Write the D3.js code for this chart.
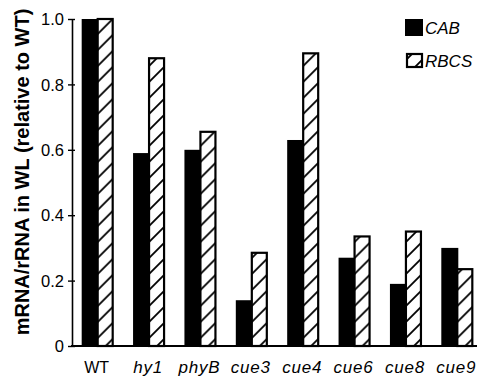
<!DOCTYPE html>
<html><head><meta charset="utf-8">
<script src="https://cdn.jsdelivr.net/npm/d3@7"></script>
<style>body{margin:0;background:#fff} svg{display:block}</style>
</head><body><svg id="c" width="479" height="383"></svg>
<script>
const categories = ["WT","hy1","phyB","cue3","cue4","cue6","cue8","cue9"];
const italicCategory = [false,true,true,true,true,true,true,true];
const cabValues = [1.0,0.59,0.60,0.14,0.63,0.27,0.19,0.30];
const rbcsValues = [1.0,0.88,0.655,0.285,0.895,0.335,0.35,0.235];
const seriesNames = ["CAB","RBCS"];
const yTicks = [0,0.2,0.4,0.6,0.8,1.0];
const yTickLabels = ["0","0.2","0.4","0.6","0.8","1.0"];
const yTitle = "mRNA/rRNA in WL (relative to WT)";

const svg = d3.select("#c");
const font = "'Liberation Sans', Arial, Helvetica, sans-serif";

const y = d3.scaleLinear().domain([0,1]).range([346,19]);
const x0 = d3.scaleBand().domain(categories).range([72,483]).paddingInner(0.377).paddingOuter(0.1885);
const x1 = d3.scaleBand().domain(seriesNames).range([0,x0.bandwidth()]);

const defs = svg.append("defs");
const pat = defs.append("pattern").attr("id","hatch").attr("patternUnits","userSpaceOnUse")
  .attr("width",16).attr("height",16).attr("x",0).attr("y",2);
pat.append("rect").attr("width",16).attr("height",16).attr("fill","#fff");
pat.append("path").attr("d","M-2,18 L18,-2 M-2,2 L2,-2 M14,18 L18,14").attr("stroke","#000").attr("stroke-width",1.8);

const data = categories.map((c,i)=>({cat:c, vals:[cabValues[i], rbcsValues[i]]}));

const groups = svg.append("g").selectAll("g").data(data).join("g")
  .attr("transform", d=>`translate(${x0(d.cat)},0)`);

// CAB bars (solid black)
groups.append("rect")
  .attr("x", x1("CAB")).attr("width", x1.bandwidth()+1)
  .attr("y", d=>y(d.vals[0])).attr("height", d=>y(0)-y(d.vals[0]))
  .attr("fill","#000");

// RBCS bars (hatched)
groups.append("rect")
  .attr("x", x1("RBCS")).attr("width", x1.bandwidth()-1)
  .attr("y", d=>y(d.vals[1])).attr("height", d=>y(0)-y(d.vals[1]))
  .attr("fill","url(#hatch)").attr("stroke","#000").attr("stroke-width",2.2);

// y axis
const yAxis = svg.append("g").attr("transform","translate(72,0)")
  .call(d3.axisLeft(y).tickValues(yTicks).tickFormat((d,i)=>yTickLabels[i]).tickSize(4).tickSizeOuter(0).tickPadding(4));
yAxis.select(".domain").attr("stroke","#000").attr("stroke-width",1.6);
yAxis.selectAll(".tick line").attr("x1",3).attr("stroke-width",1.4);
yAxis.selectAll(".tick text").attr("font-family",font).attr("font-size",16.5).attr("fill","#000").attr("dy","0.34em");

// x baseline
svg.append("line").attr("x1",71).attr("x2",477).attr("y1",y(0)).attr("y2",y(0))
  .attr("stroke","#000").attr("stroke-width",2);

// x labels
svg.append("g").selectAll("text").data(categories).join("text")
  .attr("x", d=>x0(d)+x0.bandwidth()/2-1)
  .attr("y", 373)
  .attr("text-anchor","middle")
  .attr("font-family",font)
  .attr("font-size",(d,i)=>italicCategory[i]?17:16)
  .attr("font-style",(d,i)=>italicCategory[i]?"italic":"normal")
  .attr("letter-spacing",(d,i)=>italicCategory[i]?"0.8px":"0px")
  .text(d=>d);

// y title
svg.append("text").attr("transform","translate(29,172) rotate(-90)")
  .attr("text-anchor","middle").attr("font-family",font).attr("font-weight","bold")
  .attr("font-size",20).text(yTitle);

// legend
const legend = svg.append("g");
legend.append("rect").attr("x",405).attr("y",19).attr("width",18).attr("height",17).attr("fill","#000");
legend.append("rect").attr("x",407).attr("y",54).attr("width",15).attr("height",13)
  .attr("fill","url(#hatch)").attr("stroke","#000").attr("stroke-width",2.2);
legend.selectAll("text").data(seriesNames).join("text")
  .attr("x",425).attr("y",(d,i)=>i===0?34:67)
  .attr("font-family",font).attr("font-style","italic").attr("font-size",17)
  .text(d=>d);
</script></body></html>
